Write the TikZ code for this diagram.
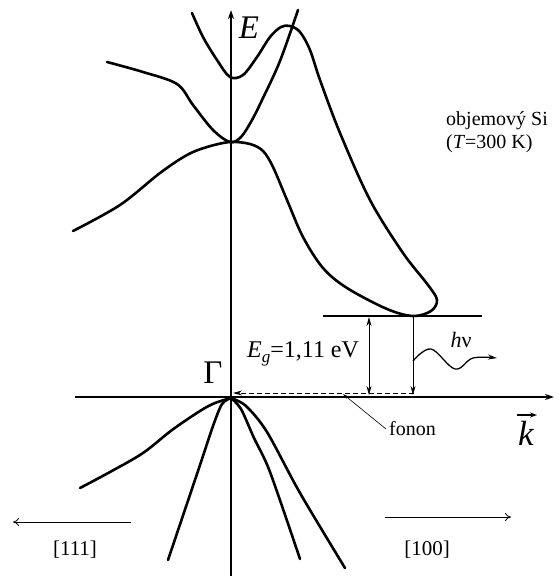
\documentclass[tikz,border=0pt]{standalone}
\usepackage{fontspec}
\setmainfont{Liberation Serif}
\usetikzlibrary{arrows.meta}
\begin{document}
\begin{tikzpicture}[x=1pt,y=-1pt,
  band/.style={line width=2.6pt, line join=round, line cap=round},
  axisline/.style={line width=1.8pt},
  thinline/.style={line width=0.9pt},
  tip/.style={-{Stealth[length=9pt,width=6pt]}},
  lbl/.style={inner sep=0pt, font=\fontsize{20}{20}\selectfont},
  big/.style={inner sep=0pt, font=\fontsize{33}{33}\selectfont}]
\useasboundingbox (0,0) rectangle (558,576);
% axes
\coordinate (O) at (231,397);
\coordinate (Etop) at (231,10);
\coordinate (Ebot) at (231,576);
\coordinate (kL) at (75,397);
\coordinate (kR) at (554,397);
\draw[axisline,tip] (Ebot) -- (Etop);
\draw[axisline,tip] (kL) -- (kR);
% conduction bands
\draw[band] plot[smooth,tension=0.55] coordinates {
 (192,13) (203,37) (217,60) (230,77) (243,75) (257,57) (270,37) (281,27) (290,26)
 (300,32) (310,50) (320,80) (340,133) (370,200) (403,253) (428,285) (437,300)
 (431,311) (413,316) (387,309) (347,288) (323,268) (303,237) (287,200) (273,167)
 (263,151) (250,144) (230,142) (207,147) (187,155) (160,173) (120,205) (73,231)};
\draw[band] plot[smooth,tension=0.55] coordinates {
 (107,62) (143,72) (177,84) (193,105) (213,130) (230,142) (241,137) (252,120)
 (263,98) (280,61) (298,10)};
% valence bands
\draw[band] plot[smooth,tension=0.55] coordinates {
 (231,398) (215,403) (200,411) (172,430) (143,453) (110,472) (80,488)};
\draw[band] plot[smooth,tension=0.5] coordinates {
 (231,398) (222,404) (213,426) (200,465) (168,560)};
\draw[band] plot[smooth,tension=0.5] coordinates {
 (231,398) (241,409) (254,438) (270,472) (300,559)};
\draw[band] plot[smooth,tension=0.5] coordinates {
 (231,398) (246,406) (267,432) (300,493) (345,568)};
% conduction band minimum level
\coordinate (Lc1) at (323,316);
\coordinate (Lc2) at (482,316);
\draw[axisline] (Lc1) -- (Lc2);
% band gap arrow
\coordinate (G1) at (369,317);
\coordinate (G2) at (369,395);
\draw[thinline,{Stealth[length=9pt,width=5pt]}-{Stealth[length=9pt,width=5pt]}] (G1) -- (G2);
% radiative transition
\coordinate (P1) at (413,316);
\coordinate (P2) at (413,395);
\draw[thinline,-{Stealth[length=9pt,width=5pt]}] (P1) -- (P2);
% photon
\draw[line width=1.3pt,-{Stealth[length=9pt,width=5pt]}] plot[smooth,tension=0.6] coordinates {
 (413,361) (431,349) (455,369) (473,358) (497,358)};
% phonon (dashed)
\coordinate (F1) at (414,393);
\coordinate (F2) at (233,393);
\draw[thinline,dash pattern=on 5pt off 3pt,-{Stealth[length=9pt,width=5pt]}] (F1) -- (F2);
% phonon leader
\coordinate (FL1) at (386,429);
\coordinate (FL2) at (343,394);
\draw[line width=0.6pt,-{Stealth[length=6pt,width=3pt]}] (FL1) -- (FL2);
% k vector arrow
\coordinate (ka) at (517,415);
\coordinate (kb) at (537,415);
\draw[line width=1.2pt,-{Stealth[length=7pt,width=5pt]}] (ka) -- (kb);
% direction arrows
\coordinate (d1a) at (131,522);
\coordinate (d1b) at (13,522);
\draw[line width=0.8pt,-{To[length=6pt,width=8pt]}] (d1a) -- (d1b);
\coordinate (d2a) at (385,517);
\coordinate (d2b) at (511,517);
\draw[line width=0.8pt,-{To[length=6pt,width=8pt]}] (d2a) -- (d2b);
% labels
\node[big,anchor=base] (E) at (249,38) {\itshape E};
\node[big,anchor=base] (Gam) at (213,383) {Γ};
\node[inner sep=0pt,font=\fontsize{35}{35}\selectfont\itshape,anchor=base] (k) at (526,445) {k};
\node[inner sep=0pt,font=\fontsize{22}{22}\selectfont,anchor=base] (hnu) at (461,347) {\itshape h\upshape ν};
\node[inner sep=0pt,font=\fontsize{24}{24}\selectfont,anchor=base west] (Eg) at (247,357)
  {\itshape E\raisebox{-0.22em}{\fontsize{17}{17}\selectfont g}\upshape =1,11 eV};
\node[lbl,anchor=base west] (fon) at (389,435) {fonon};
\node[lbl,anchor=base west] (obj) at (446,125) {objemový Si};
\node[lbl,anchor=base west] (temp) at (446,148) {(\textit{T}=300 K)};
\node[lbl,font=\fontsize{21}{21}\selectfont,anchor=base] (d111) at (75,555) {[111]};
\node[lbl,font=\fontsize{21}{21}\selectfont,anchor=base] (d100) at (427,555) {[100]};
\end{tikzpicture}
\end{document}
